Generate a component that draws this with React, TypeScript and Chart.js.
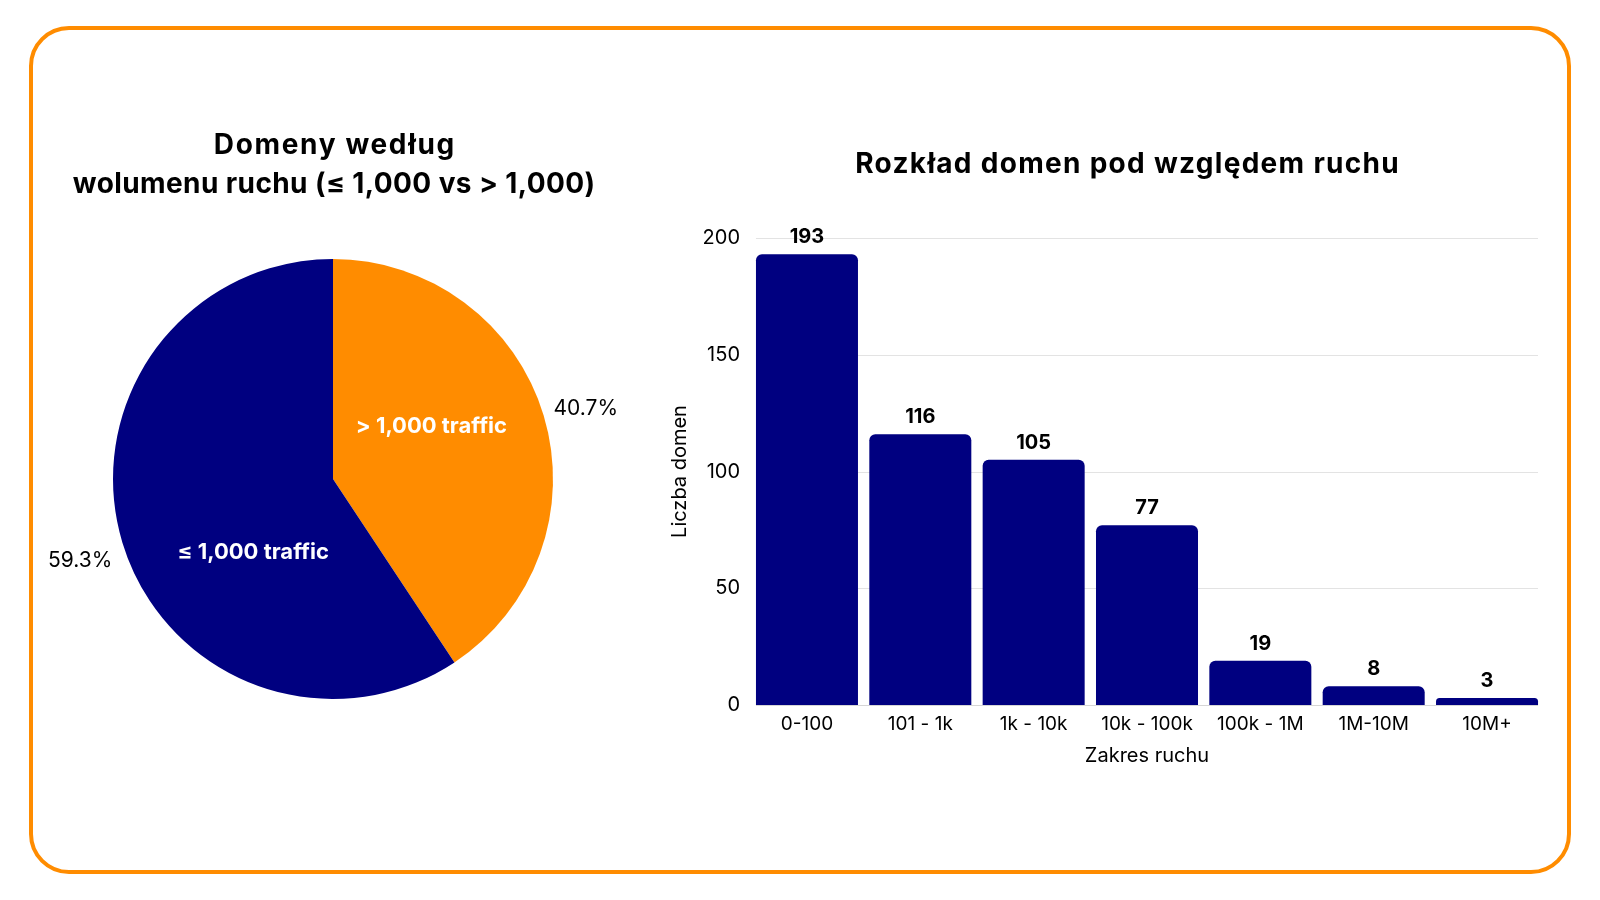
import React, { useEffect, useRef } from "react";
import { Chart, registerables } from "chart.js";

Chart.register(...registerables);

const FONT = "Inter, 'Noto Sans', sans-serif";
const NAVY = "#000080";
const ORANGE = "#FF8C00";

const rangeLabels = ["0-100", "101 - 1k", "1k - 10k", "10k - 100k", "100k - 1M", "1M-10M", "10M+"];
const domainCounts = [193, 116, 105, 77, 19, 8, 3];
const yTicks = [0, 50, 100, 150, 200];

const pieLabels = ["> 1,000 traffic", "≤ 1,000 traffic"];
const pieColors = [ORANGE, NAVY];
// domains with traffic > 1,000 and ≤ 1,000, taken from the bar counts
const pieValues = [
  domainCounts.slice(2).reduce((a, b) => a + b, 0),
  domainCounts.slice(0, 2).reduce((a, b) => a + b, 0),
];

const pieTitle = ["Domeny według", "wolumenu ruchu (≤ 1,000 vs > 1,000)"];
const barTitle = ["Rozkład domen pod względem ruchu"];

// inner label placement: angle shift (deg) from slice middle, and radius fraction
const innerShift = [-12, -25.5];
const innerDist = [0.51, 0.49];

function titlePlugin(lines: string[], cx: number, ys: number[], spacing: number[], size: number) {
  return {
    id: "customTitle",
    afterDraw(chart: any) {
      const ctx = chart.ctx;
      ctx.save();
      ctx.textAlign = "center";
      ctx.textBaseline = "middle";
      ctx.fillStyle = "#000";
      ctx.font = `700 ${size}px ${FONT}`;
      lines.forEach((t, i) => {
        (ctx as any).letterSpacing = `${spacing[i]}px`;
        ctx.fillText(t, cx + spacing[i] / 2, ys[i]);
      });
      (ctx as any).letterSpacing = "0px";
      ctx.restore();
    },
  };
}

const piePlugin = {
  id: "pieLabels",
  afterDatasetsDraw(chart: any) {
    const ctx = chart.ctx;
    const meta = chart.getDatasetMeta(0);
    const total = pieValues.reduce((a, b) => a + b, 0);
    meta.data.forEach((arc: any, i: number) => {
      const { x, y, startAngle, endAngle, outerRadius } = arc.getProps(
        ["x", "y", "startAngle", "endAngle", "outerRadius"],
        true
      );
      const mid = (startAngle + endAngle) / 2;
      const pct = ((pieValues[i] / total) * 100).toFixed(1) + "%";
      ctx.save();
      ctx.textAlign = "center";
      ctx.textBaseline = "middle";
      ctx.fillStyle = "#000";
      ctx.font = `400 21px ${FONT}`;
      ctx.fillText(pct, x + Math.cos(mid) * outerRadius * 1.2, y + Math.sin(mid) * outerRadius * 1.2 + 6);
      const a2 = mid + (innerShift[i] * Math.PI) / 180;
      ctx.fillStyle = "#fff";
      ctx.font = `700 22px ${FONT}`;
      ctx.fillText(
        pieLabels[i],
        x + Math.cos(a2) * outerRadius * innerDist[i],
        y + Math.sin(a2) * outerRadius * innerDist[i] + 1
      );
      ctx.restore();
    });
  },
};

const barGridPlugin = {
  id: "barGrid",
  beforeDatasetsDraw(chart: any) {
    const ctx = chart.ctx;
    const meta = chart.getDatasetMeta(0);
    const first = meta.data[0];
    const last = meta.data[meta.data.length - 1];
    const x0 = first.x - first.width / 2;
    const x1 = last.x + last.width / 2;
    const ys = chart.scales.y;
    ctx.save();
    ctx.lineWidth = 1;
    yTicks.forEach((v) => {
      const y = Math.round(ys.getPixelForValue(v)) + 0.5;
      ctx.strokeStyle = v === 0 ? "#d6d6d6" : "#e3e3e3";
      ctx.beginPath();
      ctx.moveTo(x0, y);
      ctx.lineTo(x1, y);
      ctx.stroke();
    });
    ctx.restore();
  },
};

const barLabelPlugin = {
  id: "barLabels",
  afterDatasetsDraw(chart: any) {
    const ctx = chart.ctx;
    const meta = chart.getDatasetMeta(0);
    ctx.save();
    ctx.textAlign = "center";
    ctx.textBaseline = "middle";
    ctx.fillStyle = "#000";
    ctx.font = `700 20px ${FONT}`;
    meta.data.forEach((bar: any, i: number) => {
      ctx.fillText(String(domainCounts[i]), bar.x, bar.y - 17);
    });
    ctx.restore();
  },
};

export default function App() {
  const pieRef = useRef<HTMLCanvasElement>(null);
  const barRef = useRef<HTMLCanvasElement>(null);

  useEffect(() => {
    const pie = new Chart(pieRef.current!, {
      type: "pie",
      data: {
        labels: pieLabels,
        datasets: [{ data: pieValues, backgroundColor: pieColors, borderWidth: 0 }],
      },
      options: {
        animation: false,
        responsive: false,
        layout: { padding: { top: 159, bottom: 21 } },
        plugins: {
          legend: { display: false },
          tooltip: { enabled: false },
          title: { display: false },
        },
      },
      plugins: [piePlugin, titlePlugin(pieTitle, 334, [46, 85], [1.65, 0.4], 28)],
    });

    const bar = new Chart(barRef.current!, {
      type: "bar",
      data: {
        labels: rangeLabels,
        datasets: [
          {
            data: domainCounts,
            backgroundColor: NAVY,
            borderRadius: 6,
            barPercentage: 0.9,
            categoryPercentage: 1.0,
          },
        ],
      },
      options: {
        animation: false,
        responsive: false,
        layout: { padding: { top: 138, right: 6.3 } },
        plugins: {
          legend: { display: false },
          tooltip: { enabled: false },
          title: { display: false },
        },
        scales: {
          x: {
            grid: { display: false, drawTicks: false },
            border: { display: false },
            ticks: { color: "#000", font: { family: FONT, size: 19 }, padding: 8 },
            title: {
              display: true,
              text: "Zakres ruchu",
              color: "#000",
              font: { family: FONT, size: 20, lineHeight: 1.2 },
              padding: { top: 0, bottom: 22 },
            },
            afterFit: (s: any) => {
              s.height = 85;
            },
          },
          y: {
            min: 0,
            max: 200,
            afterBuildTicks: (s: any) => {
              s.ticks = yTicks.map((v) => ({ value: v }));
            },
            grid: { display: false, drawTicks: false },
            border: { display: false },
            ticks: { color: "#000", font: { family: FONT, size: 20 }, padding: 10.3 },
            title: {
              display: true,
              text: "Liczba domen",
              color: "#000",
              font: { family: FONT, size: 20, lineHeight: 1.2 },
              padding: { top: 18, bottom: 0 },
            },
            afterFit: (s: any) => {
              s.width = 100.3;
            },
          },
        },
      },
      plugins: [barGridPlugin, barLabelPlugin, titlePlugin(barTitle, 477, [65], [1.3], 28)],
    });

    return () => {
      pie.destroy();
      bar.destroy();
    };
  }, []);

  return (
    <div style={{ position: "fixed", left: 0, top: 0, width: 1600, height: 900, background: "#fff" }}>
      <div
        style={{
          position: "absolute",
          left: 29,
          top: 26,
          width: 1542,
          height: 848,
          border: `4px solid ${ORANGE}`,
          borderRadius: 40,
          boxSizing: "border-box",
        }}
      />
      <canvas
        ref={pieRef}
        width={666}
        height={620}
        style={{ position: "absolute", left: 0, top: 100, width: 666, height: 620 }}
      />
      <canvas
        ref={barRef}
        width={900}
        height={690}
        style={{ position: "absolute", left: 650, top: 100, width: 900, height: 690 }}
      />
    </div>
  );
}
